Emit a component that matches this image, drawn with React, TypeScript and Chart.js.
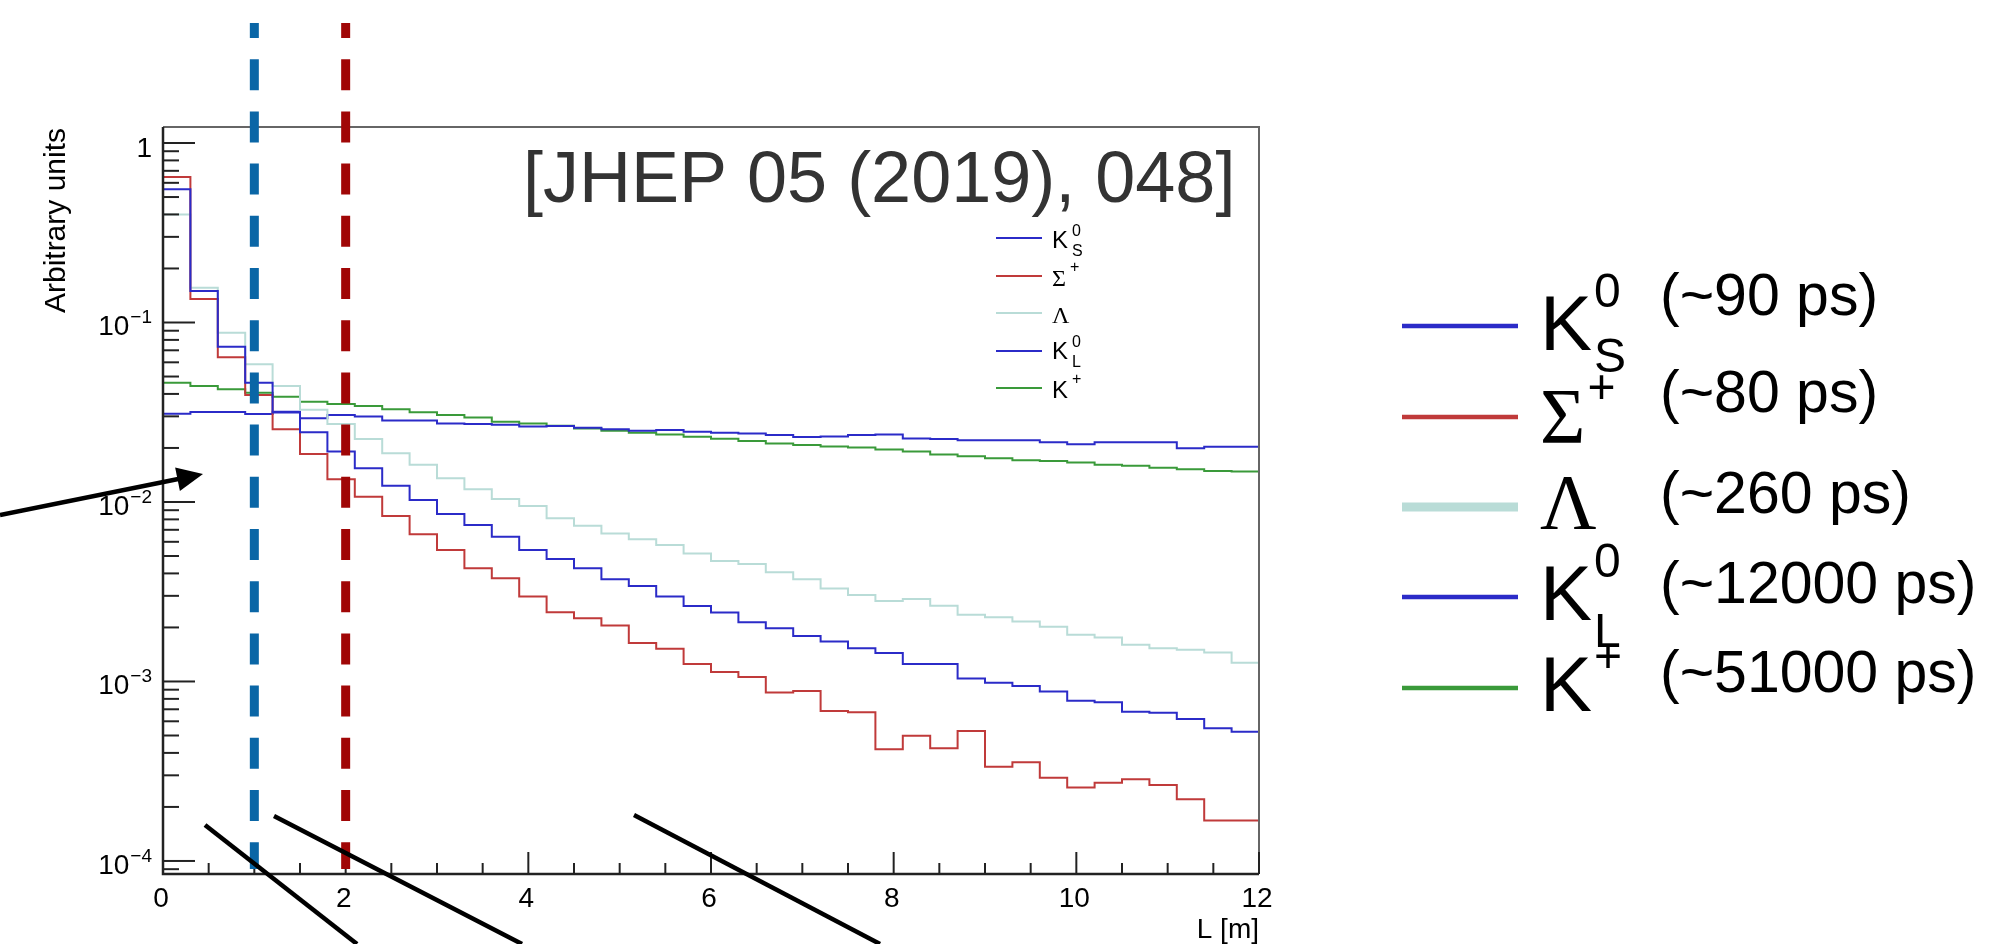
import React, { useEffect, useRef } from "react";
import { Chart, registerables } from "chart.js";

Chart.register(...registerables);

// ---- data ----
const binEdges = [
  0, 0.3, 0.6, 0.9, 1.2, 1.5, 1.8, 2.1, 2.4, 2.7, 3.0, 3.3, 3.6, 3.9, 4.2, 4.5, 4.8, 5.1, 5.4, 5.7,
  6.0, 6.3, 6.6, 6.9, 7.2, 7.5, 7.8, 8.1, 8.4, 8.7, 9.0, 9.3, 9.6, 9.9, 10.2, 10.5, 10.8, 11.1, 11.4, 11.7, 12.0,
];

const kShortValues = [
  0.552, 0.15, 0.0733, 0.0462, 0.0315, 0.0245, 0.0191, 0.0154, 0.0123, 0.01026,
  0.00857, 0.00745, 0.00641, 0.0054, 0.00481, 0.00427, 0.00371, 0.0034, 0.00297, 0.00263,
  0.00242, 0.00214, 0.00198, 0.00179, 0.00167, 0.00153, 0.00144, 0.00125, 0.00125, 0.00104,
  0.000984, 0.000944, 0.000878, 0.000782, 0.000766, 0.000679, 0.00067, 0.000618, 0.000548, 0.000525,
];

const sigmaValues = [
  0.647, 0.135, 0.064, 0.0395, 0.0254, 0.0185, 0.0134, 0.0107, 0.00836, 0.00661,
  0.0054, 0.00427, 0.00376, 0.00297, 0.00243, 0.00225, 0.00205, 0.00164, 0.00152, 0.00125,
  0.00113, 0.00106, 0.000867, 0.000885, 0.000685, 0.000674, 0.000419, 0.000499, 0.000425, 0.00053,
  0.000335, 0.000355, 0.000291, 0.000257, 0.000273, 0.000285, 0.000265, 0.000221, 0.000168, 0.000168,
];

const lambdaValues = [
  0.4, 0.156, 0.0877, 0.0585, 0.0443, 0.0326, 0.0272, 0.0224, 0.0187, 0.0161,
  0.01355, 0.01177, 0.01039, 0.0095, 0.00811, 0.00738, 0.00667, 0.0062, 0.00576, 0.00517,
  0.00469, 0.00451, 0.00406, 0.00371, 0.0033, 0.00303, 0.00281, 0.00288, 0.00264, 0.00235,
  0.00228, 0.00216, 0.00202, 0.00182, 0.00176, 0.0016, 0.00153, 0.0015, 0.00145, 0.00127,
];

const kLongValues = [
  0.031, 0.0317, 0.0317, 0.0309, 0.0318, 0.0293, 0.0305, 0.0299, 0.0284, 0.0284,
  0.0274, 0.0272, 0.0269, 0.0263, 0.0265, 0.0259, 0.0254, 0.0249, 0.0252, 0.0246,
  0.0243, 0.0241, 0.0236, 0.023, 0.0232, 0.0236, 0.0238, 0.0226, 0.0224, 0.0221,
  0.0221, 0.0221, 0.0215, 0.021, 0.0215, 0.0215, 0.0215, 0.0199, 0.0203, 0.0203,
];

const kChargedValues = [
  0.0462, 0.0443, 0.0425, 0.0406, 0.0386, 0.0362, 0.0352, 0.0343, 0.0329, 0.0316,
  0.0305, 0.0296, 0.028, 0.0274, 0.0266, 0.0257, 0.0249, 0.0243, 0.0238, 0.0231,
  0.0225, 0.0219, 0.0212, 0.0208, 0.0204, 0.0201, 0.0196, 0.0191, 0.0184, 0.018,
  0.0175, 0.0171, 0.0169, 0.0166, 0.0161, 0.0159, 0.0155, 0.0152, 0.0149, 0.0148,
];

const seriesNames = ["K0S", "Sigma+", "Lambda", "K0L", "K+"];
const lifetimeLabels = ["(~90 ps)", "(~80 ps)", "(~260 ps)", "(~12000 ps)", "(~51000 ps)"];
const xTickValues = [0, 2, 4, 6, 8, 10, 12];
const yDecadeValues = [1, 0.1, 0.01, 0.001, 0.0001];
const yDecadeExponents = [0, -1, -2, -3, -4];
const markerPositions = [1, 2];

// ---- styles ----
const SANS = '"Liberation Sans", Arial, Helvetica, sans-serif';
const SERIF = '"Liberation Serif", "DejaVu Serif", serif';
const seriesColors = ["#2b2bc8", "#c03a3a", "#b9dcd7", "#2b2bc8", "#3a9a3a"];
const markerColors = ["#0a66a6", "#a00606"];

type Glyph = { main: string; serif: boolean; sup: string; sub: string };
const particleGlyphs: Glyph[] = [
  { main: "K", serif: false, sup: "0", sub: "S" },
  { main: "Σ", serif: true, sup: "+", sub: "" },
  { main: "Λ", serif: true, sup: "", sub: "" },
  { main: "K", serif: false, sup: "0", sub: "L" },
  { main: "K", serif: false, sup: "+", sub: "" },
];

function drawParticle(
  ctx: CanvasRenderingContext2D,
  g: Glyph,
  x: number,
  base: number,
  mainSize: number,
  smallSize: number,
  supDyDigit: number,
  supDyPlus: number,
  subDy: number,
  gap: number
) {
  ctx.textAlign = "left";
  ctx.textBaseline = "alphabetic";
  ctx.fillStyle = "#000";
  ctx.font = `${mainSize}px ${g.serif ? SERIF : SANS}`;
  ctx.fillText(g.main, x, base);
  const w = ctx.measureText(g.main).width;
  ctx.font = `${smallSize}px ${SANS}`;
  if (g.sup) ctx.fillText(g.sup, x + w + gap, base + (g.sup === "+" ? supDyPlus : supDyDigit));
  if (g.sub) ctx.fillText(g.sub, x + w + gap, base + subDy);
}

const overlayPlugin = {
  id: "overlay",
  afterDatasetsDraw(chart: any) {
    const ctx: CanvasRenderingContext2D = chart.ctx;
    const xs = chart.scales.x;
    const ys = chart.scales.y;
    const a = chart.chartArea;
    ctx.save();

    // frame
    ctx.lineCap = "butt";
    ctx.strokeStyle = "#666";
    ctx.lineWidth = 2;
    ctx.beginPath();
    ctx.moveTo(a.left, a.top);
    ctx.lineTo(a.right, a.top);
    ctx.lineTo(a.right, a.bottom);
    ctx.stroke();
    ctx.strokeStyle = "#222";
    ctx.lineWidth = 2.5;
    ctx.beginPath();
    ctx.moveTo(a.left, a.top);
    ctx.lineTo(a.left, a.bottom);
    ctx.lineTo(a.right, a.bottom);
    ctx.stroke();

    // y ticks (log)
    ctx.lineWidth = 2;
    ctx.strokeStyle = "#222";
    for (let e = -5; e <= 1; e++) {
      for (let m = 1; m <= 9; m++) {
        const v = m * Math.pow(10, e);
        if (v < ys.min || v > ys.max) continue;
        const py = ys.getPixelForValue(v);
        const len = m === 1 ? 32 : 16;
        ctx.beginPath();
        ctx.moveTo(a.left, py);
        ctx.lineTo(a.left + len, py);
        ctx.stroke();
      }
    }
    // x ticks
    for (let i = 0; i <= 24; i++) {
      const v = i * 0.5;
      const px = xs.getPixelForValue(v);
      const len = i % 4 === 0 ? 22 : 11;
      ctx.beginPath();
      ctx.moveTo(px, a.bottom);
      ctx.lineTo(px, a.bottom - len);
      ctx.stroke();
    }

    // y tick labels
    ctx.fillStyle = "#000";
    ctx.textBaseline = "alphabetic";
    const labelRight = 152;
    yDecadeValues.forEach((v, i) => {
      const py = ys.getPixelForValue(v);
      const ex = yDecadeExponents[i];
      if (ex === 0) {
        ctx.font = `28px ${SANS}`;
        ctx.textAlign = "right";
        ctx.fillText("1", labelRight, py + 14);
      } else {
        const supTxt = "\u2212" + String(-ex);
        ctx.font = `19px ${SANS}`;
        const ws = ctx.measureText(supTxt).width;
        ctx.textAlign = "left";
        ctx.fillText(supTxt, labelRight - ws, py + 1);
        ctx.font = `28px ${SANS}`;
        ctx.textAlign = "right";
        ctx.fillText("10", labelRight - ws - 1, py + 13);
      }
    });
    // x tick labels
    ctx.font = `28px ${SANS}`;
    ctx.textAlign = "center";
    xTickValues.forEach((v) => {
      ctx.fillText(String(v), xs.getPixelForValue(v) - 2, 907);
    });
    // axis titles
    ctx.textAlign = "right";
    ctx.fillText("L [m]", a.right, 938);
    ctx.save();
    ctx.translate(65, a.top + 1);
    ctx.rotate(-Math.PI / 2);
    ctx.font = `30px ${SANS}`;
    ctx.textAlign = "right";
    ctx.fillText("Arbitrary units", 0, 0);
    ctx.restore();

    // reference text
    ctx.fillStyle = "#333";
    ctx.font = `72px ${SANS}`;
    ctx.textAlign = "left";
    ctx.fillText("[JHEP 05 (2019), 048]", 523, 202);

    // inner legend
    const innerRows = [238, 276, 313, 351, 388];
    particleGlyphs.forEach((g, i) => {
      ctx.strokeStyle = seriesColors[i];
      ctx.lineWidth = 2;
      ctx.beginPath();
      ctx.moveTo(996, innerRows[i]);
      ctx.lineTo(1042, innerRows[i]);
      ctx.stroke();
      drawParticle(ctx, g, 1052, innerRows[i] + (i === 3 ? 8 : 10), 24, 16, -12, -14, 8, 4);
    });

    // dashed marker lines
    markerPositions.forEach((L, i) => {
      const px = xs.getPixelForValue(L);
      ctx.strokeStyle = markerColors[i];
      ctx.lineWidth = 9;
      ctx.setLineDash([31, 21.2]);
      ctx.lineDashOffset = 16;
      ctx.beginPath();
      ctx.moveTo(px, 23);
      ctx.lineTo(px, 869);
      ctx.stroke();
    });
    ctx.setLineDash([]);
    ctx.lineDashOffset = 0;

    // black annotation lines and arrow
    ctx.strokeStyle = "#000";
    ctx.fillStyle = "#000";
    ctx.lineWidth = 4.5;
    const segs = [
      [205, 825, 357, 944],
      [274, 816, 522, 944],
      [634, 815, 880, 944],
    ];
    segs.forEach(([x1, y1, x2, y2]) => {
      ctx.beginPath();
      ctx.moveTo(x1, y1);
      ctx.lineTo(x2, y2);
      ctx.stroke();
    });
    const ax0 = 0, ay0 = 515, ax1 = 203, ay1 = 474;
    const dx = ax1 - ax0, dy = ay1 - ay0, dl = Math.hypot(dx, dy);
    const ux = dx / dl, uy = dy / dl;
    const head = 26, half = 12;
    const bx = ax1 - ux * head, by = ay1 - uy * head;
    ctx.beginPath();
    ctx.moveTo(ax0, ay0);
    ctx.lineTo(bx + ux * 2, by + uy * 2);
    ctx.stroke();
    ctx.beginPath();
    ctx.moveTo(ax1, ay1);
    ctx.lineTo(bx - uy * half, by + ux * half);
    ctx.lineTo(bx + uy * half, by - ux * half);
    ctx.closePath();
    ctx.fill();

    // big legend on the right
    const lineRows = [326, 417, 507, 597, 688];
    const glyphBase = [350, 442, 528, 620, 711];
    const textBase = [315, 412, 513, 603, 692];
    particleGlyphs.forEach((g, i) => {
      ctx.strokeStyle = seriesColors[i];
      ctx.lineWidth = i === 2 ? 9 : 4.5;
      ctx.beginPath();
      ctx.moveTo(1402, lineRows[i]);
      ctx.lineTo(1518, lineRows[i]);
      ctx.stroke();
      drawParticle(ctx, g, 1540, glyphBase[i], 78, 48, -43, -39, g.sub === "L" ? 27 : 22, 2);
      ctx.font = `59px ${SANS}`;
      ctx.fillStyle = "#000";
      ctx.textAlign = "left";
      ctx.fillText(lifetimeLabels[i], 1660, textBase[i]);
    });

    ctx.restore();
  },
};

export default function App() {
  const ref = useRef<HTMLCanvasElement>(null);
  useEffect(() => {
    const series = [kShortValues, sigmaValues, lambdaValues, kLongValues, kChargedValues];
    const datasets = series.map((vals, i) => ({
      label: seriesNames[i],
      data: binEdges.map((x, j) => ({ x, y: vals[Math.min(j, vals.length - 1)] })),
      borderColor: seriesColors[i],
      backgroundColor: seriesColors[i],
      borderWidth: 2,
      pointRadius: 0,
      stepped: true as const,
      fill: false,
      tension: 0,
    }));
    const chart = new Chart(ref.current as HTMLCanvasElement, {
      type: "line",
      data: { datasets },
      options: {
        animation: false,
        responsive: false,
        devicePixelRatio: 1,
        layout: { padding: { left: 163, top: 127, right: 2003 - 1259, bottom: 944 - 874 } },
        plugins: { legend: { display: false }, tooltip: { enabled: false } },
        events: [],
        scales: {
          x: { type: "linear", min: 0, max: 12, display: false },
          y: { type: "logarithmic", min: 8.46e-5, max: 1.228, display: false },
        },
      },
      plugins: [overlayPlugin],
    });
    return () => chart.destroy();
  }, []);
  return (
    <div style={{ position: "absolute", left: 0, top: 0, width: 2003, height: 944, background: "#fff" }}>
      <canvas ref={ref} width={2003} height={944} style={{ width: 2003, height: 944, display: "block" }} />
    </div>
  );
}
